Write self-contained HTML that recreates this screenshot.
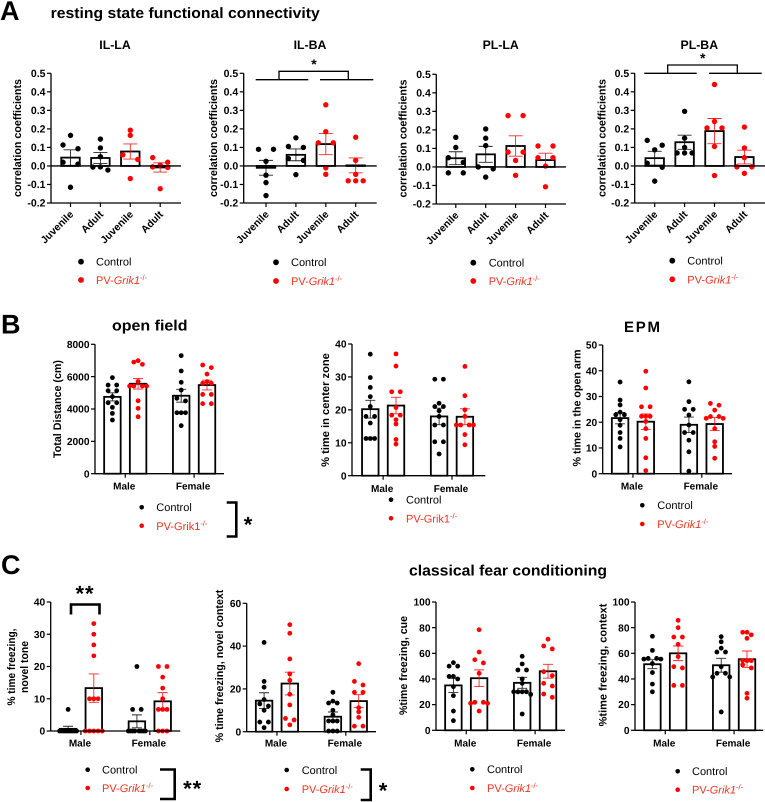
<!DOCTYPE html>
<html lang="en">
<head>
<meta charset="utf-8">
<title>Resting state connectivity, open field, EPM and fear conditioning</title>
<style>
html,body{margin:0;padding:0;background:#fff;width:765px;height:802px;overflow:hidden}
svg{display:block;filter:blur(0.3px)}
text{font-family:"Liberation Sans",sans-serif;fill:#000;text-rendering:geometricPrecision}
.panel-letter{font-size:27px;font-weight:bold}
.section{font-size:15px;font-weight:bold}
.ptitle{font-size:12.3px;font-weight:bold;text-anchor:middle}
.leg{font-size:11px}
.leg-red{font-size:11px;fill:#ee3322}
.leg-red tspan{fill:#ee3322}
.star{font-weight:bold;font-size:22px;text-anchor:middle}
.star-a{font-weight:bold;font-size:14px;text-anchor:middle}
.br{fill:none;stroke:#000;stroke-width:1.3}
.br2{fill:none;stroke:#000;stroke-width:2.6}
</style>
</head>
<body>
<svg id="figure" width="765" height="802" viewBox="0 0 765 802" xmlns="http://www.w3.org/2000/svg">
  <rect width="765" height="802" fill="#fff"/>
  <text class="panel-letter" x="0" y="20">A</text>
  <text class="panel-letter" x="1" y="333.5">B</text>
  <text class="panel-letter" x="1" y="574">C</text>
  <text class="section" x="50.7" y="18" textLength="269" lengthAdjust="spacingAndGlyphs">resting state functional connectivity</text>
  <text class="section" x="112" y="330.7" textLength="75.5" lengthAdjust="spacingAndGlyphs">open field</text>
  <text class="section" x="624" y="332" textLength="36" lengthAdjust="spacing">EPM</text>
  <text class="section" x="409" y="575.7" textLength="198" lengthAdjust="spacingAndGlyphs">classical fear conditioning</text>
  <text class="ptitle" x="115" y="49">IL-LA</text>
  <text class="ptitle" x="310" y="49">IL-BA</text>
  <text class="ptitle" x="500.7" y="49">PL-LA</text>
  <text class="ptitle" x="699.3" y="49">PL-BA</text>

  <g>
    <path class="br" d="M255.7 79.7H308.3M320 79.7H373.3M279 79.7V71.3H348.3V79.7"/>
    <text class="star-a" x="314" y="69">*</text>
  </g>
  <g>
    <path class="br" d="M644.3 73.3H696.7M709 73.3H761.7M667.7 73.3V65H737.3V73.3"/>
    <text class="star-a" x="702.7" y="63">*</text>
  </g>
  <g>
    <path class="br2" d="M71 614.5V604.5H99.5V614.5"/>
    <text class="star" x="85" y="601" letter-spacing="1">**</text>
  </g>
  <g>
    <path class="br2" d="M226.7 502.5H236.3V536.5H226.7"/>
    <text class="star" x="248" y="532">*</text>
  </g>
  <g>
    <path class="br2" d="M160 769.5H174.7V799H160"/>
    <text class="star" x="192.7" y="796" letter-spacing="1">**</text>
  </g>
  <g>
    <path class="br2" d="M360.7 769.5H370.7V800H360.7"/>
    <text class="star" x="383" y="798">*</text>
  </g>

  <g>
    <circle cx="81" cy="261.7" r="2.9" fill="#000"/><text class="leg" x="96" y="265.5">Control</text>
    <circle cx="81" cy="280" r="2.9" fill="#f00"/><text class="leg-red" x="96" y="284">PV-<tspan font-style="italic">Grik1</tspan><tspan font-size="7.5" dy="-4">-/-</tspan></text>
  </g>
  <g>
    <circle cx="276" cy="262.3" r="2.9" fill="#000"/><text class="leg" x="291" y="266">Control</text>
    <circle cx="276" cy="281" r="2.9" fill="#f00"/><text class="leg-red" x="291" y="285">PV-<tspan font-style="italic">Grik1</tspan><tspan font-size="7.5" dy="-4">-/-</tspan></text>
  </g>
  <g>
    <circle cx="473.3" cy="262.7" r="2.9" fill="#000"/><text class="leg" x="488.7" y="266.5">Control</text>
    <circle cx="473.3" cy="281" r="2.9" fill="#f00"/><text class="leg-red" x="488.7" y="285">PV-<tspan font-style="italic">Grik1</tspan><tspan font-size="7.5" dy="-4">-/-</tspan></text>
  </g>
  <g>
    <circle cx="672.3" cy="260.7" r="2.9" fill="#000"/><text class="leg" x="687.3" y="264.5">Control</text>
    <circle cx="672.3" cy="279.3" r="2.9" fill="#f00"/><text class="leg-red" x="687.3" y="283.3">PV-<tspan font-style="italic">Grik1</tspan><tspan font-size="7.5" dy="-4">-/-</tspan></text>
  </g>
  <g>
    <circle cx="141.7" cy="507.3" r="2.3" fill="#000"/><text class="leg" x="156.3" y="511">Control</text>
    <circle cx="141.7" cy="525.7" r="2.3" fill="#f00"/><text class="leg-red" x="156.3" y="530">PV-Grik1<tspan font-size="7.5" dy="-4">-/-</tspan></text>
  </g>
  <g>
    <circle cx="391" cy="499.7" r="2.3" fill="#000"/><text class="leg" x="406" y="503.5">Control</text>
    <circle cx="391" cy="518.3" r="2.3" fill="#f00"/><text class="leg-red" x="406" y="522.5">PV-Grik1<tspan font-size="7.5" dy="-4">-/-</tspan></text>
  </g>
  <g>
    <circle cx="642.3" cy="505.3" r="2.3" fill="#000"/><text class="leg" x="657.3" y="509">Control</text>
    <circle cx="642.3" cy="524" r="2.3" fill="#f00"/><text class="leg-red" x="657.3" y="528">PV-<tspan font-style="italic">Grik1</tspan><tspan font-size="7.5" dy="-4">-/-</tspan></text>
  </g>
  <g>
    <circle cx="87.7" cy="769.7" r="2.3" fill="#000"/><text class="leg" x="102" y="773.5">Control</text>
    <circle cx="87.7" cy="788" r="2.3" fill="#f00"/><text class="leg-red" x="102" y="792">PV-<tspan font-style="italic">Grik1</tspan><tspan font-size="7.5" dy="-4">-/-</tspan></text>
  </g>
  <g>
    <circle cx="286.7" cy="770" r="2.3" fill="#000"/><text class="leg" x="301.7" y="774">Control</text>
    <circle cx="286.7" cy="789" r="2.3" fill="#f00"/><text class="leg-red" x="301.7" y="793">PV-<tspan font-style="italic">Grik1</tspan><tspan font-size="7.5" dy="-4">-/-</tspan></text>
  </g>
  <g>
    <circle cx="472.3" cy="769.3" r="2.3" fill="#000"/><text class="leg" x="487" y="773">Control</text>
    <circle cx="472.3" cy="788" r="2.3" fill="#f00"/><text class="leg-red" x="487" y="792">PV-<tspan font-style="italic">Grik1</tspan><tspan font-size="7.5" dy="-4">-/-</tspan></text>
  </g>
  <g>
    <circle cx="677.7" cy="771.3" r="2.3" fill="#000"/><text class="leg" x="692" y="775">Control</text>
    <circle cx="677.7" cy="789.7" r="2.3" fill="#f00"/><text class="leg-red" x="692" y="793.7">PV-<tspan font-style="italic">Grik1</tspan><tspan font-size="7.5" dy="-4">-/-</tspan></text>
  </g>
</svg>

<script>
// ---------- data ----------
const ageCategories = ['Juvenile', 'Adult', 'Juvenile', 'Adult'];
const sexCategories = ['Male', 'Female'];
const correlationTicks = ['-0.2', '-0.1', '0.0', '0.1', '0.2', '0.3', '0.4', '0.5'];
const ageGroupColors = ['black', 'black', 'red', 'red'];
const sexGroupColors = ['black', 'red', 'black', 'red'];

const ilLaValues = [
  [0.165, 0.113, 0.093, 0.02, 0.01, -0.115],
  [0.145, 0.097, 0.05, -0.005, -0.006, -0.022],
  [0.193, 0.165, 0.06, 0.035, -0.068],
  [0.045, 0.02, 0.005, -0.005, -0.008, -0.123]
];
const ilLaMeans = [0.045, 0.043, 0.078, -0.008];
const ilLaErrors = [0.042, 0.03, 0.041, 0.025];

const ilBaValues = [
  [0.09, 0.09, 0.025, -0.05, -0.09, -0.16],
  [0.152, 0.105, 0.1, 0.04, 0.03, -0.047],
  [0.33, 0.185, 0.125, 0.125, -0.01, -0.045],
  [0.155, 0.03, -0.045, -0.08, -0.08, -0.08]
];
const ilBaMeans = [-0.01, 0.06, 0.118, 0.003];
const ilBaErrors = [0.04, 0.032, 0.057, 0.04];

const plLaValues = [
  [0.16, 0.105, 0.05, 0.025, -0.032, -0.032],
  [0.205, 0.155, 0.115, 0, -0.01, -0.055],
  [0.277, 0.277, 0.08, 0.08, 0.035, -0.045],
  [0.113, 0.113, 0.05, 0.05, 0.005, -0.107]
];
const plLaMeans = [0.047, 0.068, 0.113, 0.037];
const plLaErrors = [0.035, 0.043, 0.055, 0.037];

const plBaValues = [
  [0.138, 0.112, 0.087, 0.015, -0.007, -0.082],
  [0.295, 0.15, 0.1, 0.07, 0.07, 0.07],
  [0.44, 0.24, 0.205, 0.205, 0.105, -0.052],
  [0.21, 0.097, 0.045, -0.005, -0.005, -0.04]
];
const plBaMeans = [0.042, 0.128, 0.188, 0.048];
const plBaErrors = [0.037, 0.038, 0.068, 0.037];

const openFieldTicks = ['0', '2000', '4000', '6000', '8000'];
const openFieldValues = [
  [5940, 5480, 5480, 5130, 5130, 4760, 4390, 4390, 4100, 3730, 3320],
  [6990, 6900, 6760, 5420, 5420, 5420, 5420, 4510, 4040, 3520, 5700],
  [7300, 6350, 5650, 5170, 4660, 4500, 3770, 3770, 3770, 2970],
  [6720, 6560, 6160, 5690, 5590, 5590, 4900, 4900, 4330, 4330]
];
const openFieldMeans = [4750, 5560, 4820, 5480];
const openFieldErrors = [250, 330, 400, 300];

const centerZoneTicks = ['0', '10', '20', '30', '40'];
const centerZoneValues = [
  [36.9, 29.8, 26.8, 24, 21, 18, 18, 16, 11.3, 11.3, 11.3],
  [37, 33.3, 25.5, 25.5, 20.7, 18.4, 18.4, 17, 15.7, 11, 9.6],
  [29.3, 29.3, 22, 21, 21, 19.7, 18, 15.4, 15.4, 10.3, 10.3, 6.6],
  [33.2, 24.3, 20, 18, 15.4, 15.4, 15.4, 15.4, 12.5, 9.4]
];
const centerZoneMeans = [20.2, 21.3, 18, 17.9];
const centerZoneErrors = [2.7, 2.5, 2.5, 2.4];

const openArmTicks = ['0', '10', '20', '30', '40', '50'];
const openArmValues = [
  [35.6, 28.6, 26.7, 23.9, 22.9, 22.9, 21, 18.8, 16, 13.7, 10.4],
  [39.8, 33.3, 26, 26, 22.3, 22.3, 22.3, 20.3, 17.5, 13.7, 6.2, 1.2],
  [35.7, 28, 25, 25, 22.8, 18.9, 16, 16, 13, 8.5, 1],
  [27.3, 26.6, 24.7, 22.2, 22.2, 21.5, 21.5, 17.5, 12.4, 10.6, 6]
];
const openArmMeans = [21.6, 20.2, 19, 19.3];
const openArmErrors = [2.2, 3, 3, 2.5];

const toneTicks = ['0', '10', '20', '30', '40'];
const toneValues = [
  [6.7, 0, 0, 0, 0, 0, 0, 0, 0, 0],
  [33.3, 30, 26.7, 23.3, 10, 10, 10, 0, 0, 0, 0, 0],
  [20, 6.7, 6.7, 0, 0, 0, 0, 0, 0, 0, 0],
  [20, 20, 16.7, 13.3, 10, 6.7, 6.7, 6.7, 0, 0, 0]
];
const toneMeans = [0.67, 13.3, 3, 9.2];
const toneErrors = [0.8, 4.4, 2, 2.7];

const novelContextTicks = ['0', '20', '40', '60'];
const novelContextValues = [
  [41.7, 23.5, 20.8, 15, 13, 12, 10, 4.5, 4.5, 1.9],
  [50, 46, 34, 27, 24, 17.5, 12.5, 6.2, 5.5, 3.2],
  [18.4, 14.3, 13.4, 13.4, 10, 7.8, 5, 5, 5, 0.3, 0.3, 0.3],
  [31.8, 23.5, 21.8, 18.4, 18.4, 11.2, 9.3, 6.7, 2.6, 2.6]
];
const novelContextMeans = [14.5, 22.5, 7, 14.3];
const novelContextErrors = [3.7, 5.3, 2.2, 3];

const percentTicks = ['0', '20', '40', '60', '80', '100'];
const cueValues = [
  [52.7, 50, 50, 42, 42, 40, 34, 27, 15, 7.5],
  [78.4, 61, 55, 52.5, 44.4, 21.8, 21.8, 21, 21, 15],
  [57.7, 51.7, 47, 47, 40, 36.6, 30, 30, 30, 30, 28, 12.7],
  [71, 65.7, 63.4, 45.7, 42.6, 36.6, 34.5, 28.3, 25.7]
];
const cueMeans = [35, 40.6, 37, 46];
const cueErrors = [5.5, 6.5, 4.3, 5.4];

const contextValues = [
  [73.3, 62.3, 56, 56, 55.5, 55.5, 52, 45, 36, 30],
  [85.7, 80, 72.7, 72.7, 67, 57.4, 49.6, 48.6, 35, 35],
  [73, 69, 64, 61, 61, 49.6, 44.4, 44.4, 41.6, 41.6, 14.3],
  [76.4, 76.4, 74.4, 71.7, 54.3, 54.3, 54.3, 51, 48.6, 28.8, 25]
];
const contextMeans = [51.5, 60, 50.7, 55.4];
const contextErrors = [3.5, 5.7, 5.4, 6.4];

// ---------- drawing helpers ----------
const SVG_NS = 'http://www.w3.org/2000/svg';
const figure = document.getElementById('figure');

function make(tag, parent, attrs, text) {
  const node = document.createElementNS(SVG_NS, tag);
  Object.keys(attrs).forEach(function (k) { node.setAttribute(k, attrs[k]); });
  if (text !== undefined) node.textContent = text;
  parent.appendChild(node);
  return node;
}

// Bin near-equal values into rows and spread each row sideways, centred on the group.
function layoutPoints(values, y, binPx, step, maxHalf) {
  const sorted = values.slice().sort(function (a, b) { return b - a; });
  const rows = [];
  sorted.forEach(function (v) {
    const row = rows[rows.length - 1];
    if (row && y(v) - y(row[0]) <= binPx) row.push(v);
    else rows.push([v]);
  });
  const out = [];
  rows.forEach(function (row) {
    const n = row.length;
    const half = Math.floor(n / 2);
    const s = half > 0 ? Math.min(step, maxHalf / half) : 0;
    row.forEach(function (v, i) {
      let slot;
      if (n % 2 === 1) slot = i === 0 ? 0 : (i % 2 ? -1 : 1) * Math.ceil(i / 2);
      else slot = (i % 2 ? 1 : -1) * (Math.floor(i / 2) + 1);
      out.push({ value: v, offset: slot * s });
    });
  });
  return out;
}

function drawChart(o) {
  const group = make('g', figure, {});
  
  

  const numericTicks = o.ticks.map(Number);
  const lo = Math.min.apply(null, numericTicks);
  const hi = Math.max.apply(null, numericTicks);
  const y = function (v) { return o.bottom + (v - lo) * (o.top - o.bottom) / (hi - lo); };
  const x = function (i) { return o.axisX + o.first + o.positions(i); };
  const base = y(0);

  // bars
  o.means.forEach(function (m, i) {
    const bar = make('rect', group, {
      x: x(i) - o.barW / 2, y: Math.min(y(m), base), width: o.barW,
      height: Math.abs(y(m) - base), fill: '#fff', stroke: '#000', 'stroke-width': 1.8
    });
    
    
  });

  // points
  o.values.forEach(function (vals, i) {
    layoutPoints(vals, y, o.binPx, o.step, o.maxHalf).forEach(function (p) {
      const dot = make('circle', group, {
        cx: x(i) + p.offset, cy: y(p.value), r: o.r, fill: o.colors[i] === 'red' ? '#f00' : '#000'
      });
      
      
    });
  });

  // error bars
  o.means.forEach(function (m, i) {
    const c = o.colors[i] === 'red' ? '#f00' : '#000';
    const up = y(m + o.errors[i]);
    const dn = y(m - o.errors[i]);
    const err = make('path', group, {
      d: 'M' + (x(i) - o.cap) + ' ' + up + 'H' + (x(i) + o.cap) +
         'M' + x(i) + ' ' + up + 'V' + dn +
         'M' + (x(i) - o.cap) + ' ' + dn + 'H' + (x(i) + o.cap),
      fill: 'none', stroke: c, 'stroke-width': 0.9, 'stroke-opacity': 0.85
    });
    
    
  });

  // axes
  const yAxis = make('line', group, { x1: o.axisX, x2: o.axisX, y1: o.top, y2: o.bottom, stroke: '#000', 'stroke-width': 1.3 });
  
  
  const xAxis = make('line', group, { x1: o.axisX, x2: o.right, y1: o.bottom, y2: o.bottom, stroke: '#000', 'stroke-width': 1.3 });
  
  
  if (lo < 0) {
    const zero = make('line', group, { x1: o.axisX, x2: o.right, y1: base, y2: base, stroke: '#000', 'stroke-width': 1.3 });
    
    
  }

  // y ticks
  o.ticks.forEach(function (t) {
    const tick = make('line', group, { x1: o.axisX - 4, x2: o.axisX, y1: y(Number(t)), y2: y(Number(t)), stroke: '#000', 'stroke-width': 1.2 });
    
    
    const lab = make('text', group, {
      x: o.axisX - 5.5, y: y(Number(t)) + 3.6, 'text-anchor': 'end', 'font-size': o.tickFont, 'font-weight': 'bold'
    }, t);
    
    
  });

  // x ticks + labels
  o.categories.forEach(function (c, j) {
    const tx = o.rotated ? x(j) : (x(j * 2) + x(j * 2 + 1)) / 2;
    const tick = make('line', group, { x1: tx, x2: tx, y1: o.bottom, y2: o.bottom + 4, stroke: '#000', 'stroke-width': 1.2 });
    
    
    let lab;
    if (o.rotated) {
      const ax = tx + 3.5;
      const ay = o.bottom + 12;
      lab = make('text', group, {
        x: ax, y: ay, 'text-anchor': 'end', 'font-size': 10.3, 'font-weight': 'bold',
        transform: 'rotate(-45 ' + ax + ' ' + ay + ')'
      }, c);
    } else {
      lab = make('text', group, {
        x: tx + (o.labelShift || 0), y: o.labelY, 'text-anchor': 'middle', 'font-size': 10, 'font-weight': 'bold'
      }, c);
    }
    
    
  });

  // y title
  o.yTitles.forEach(function (t) {
    const title = make('text', group, {
      x: 0, y: 0, 'text-anchor': 'middle', 'font-size': 11, 'font-weight': 'bold',
      transform: 'translate(' + t.x + ' ' + t.cy + ') rotate(-90)',
      textLength: t.len, lengthAdjust: 'spacingAndGlyphs'
    }, t.text);
    
    
  });
}

// Group layouts
function evenSpacing(i) { return i * 29.9; }
function pairedSpacing(i) { return i === 0 ? 0 : i === 1 ? 25.7 : i === 2 ? 68.8 : 94.6; }

const correlationStyle = {
  categories: ageCategories, colors: ageGroupColors, ticks: correlationTicks, rotated: true, first: 19.5, tickFont: 10.5,
  positions: evenSpacing, barW: 18.5, r: 2.7, binPx: 5, step: 7.5, maxHalf: 16, cap: 7
};
const sexStyle = {
  categories: sexCategories, colors: sexGroupColors, rotated: false, first: 17.4, tickFont: 10.2,
  positions: pairedSpacing, barW: 16.5, r: 2.4, binPx: 4, step: 4.3, maxHalf: 8.5, cap: 5
};

drawChart(Object.assign({}, correlationStyle, {
  name: 'chart-il-la', values: ilLaValues, means: ilLaMeans, errors: ilLaErrors,
  axisX: 51, right: 181, top: 73.3, bottom: 203,
  yTitles: [{ text: 'correlation coefficients', x: 21, cy: 138, len: 118 }]
}));
drawChart(Object.assign({}, correlationStyle, {
  name: 'chart-il-ba', values: ilBaValues, means: ilBaMeans, errors: ilBaErrors,
  axisX: 243.7, right: 376.7, top: 73.3, bottom: 203, first: 22.3,
  yTitles: [{ text: 'correlation coefficients', x: 217, cy: 138, len: 118 }]
}));
drawChart(Object.assign({}, correlationStyle, {
  name: 'chart-pl-la', values: plLaValues, means: plLaMeans, errors: plLaErrors,
  axisX: 436.3, right: 566, top: 74.3, bottom: 204,
  yTitles: [{ text: 'correlation coefficients', x: 406.5, cy: 138.5, len: 118 }]
}));
drawChart(Object.assign({}, correlationStyle, {
  name: 'chart-pl-ba', values: plBaValues, means: plBaMeans, errors: plBaErrors,
  axisX: 634.7, right: 765, top: 73.3, bottom: 203, first: 20,
  yTitles: [{ text: 'correlation coefficients', x: 605.5, cy: 138, len: 118 }]
}));

drawChart(Object.assign({}, sexStyle, {
  name: 'chart-open-field', ticks: openFieldTicks, values: openFieldValues, means: openFieldMeans, errors: openFieldErrors,
  axisX: 95, right: 224, top: 344.3, bottom: 473.7, labelY: 489.5, labelShift: -1,
  yTitles: [{ text: 'Total Distance (cm)', x: 61, cy: 409, len: 98 }]
}));
drawChart(Object.assign({}, sexStyle, {
  name: 'chart-center-zone', ticks: centerZoneTicks, values: centerZoneValues, means: centerZoneMeans, errors: centerZoneErrors,
  axisX: 352, right: 485.3, top: 344, bottom: 475.7, first: 18.3, labelY: 492, labelShift: -1,
  yTitles: [{ text: '% time in center zone', x: 328.8, cy: 410, len: 113.7 }]
}));
drawChart(Object.assign({}, sexStyle, {
  name: 'chart-open-arm', ticks: openArmTicks, values: openArmValues, means: openArmMeans, errors: openArmErrors,
  axisX: 602.7, right: 732, top: 345, bottom: 473.7, labelY: 489.5, labelShift: -1,
  yTitles: [{ text: '% time in the open arm', x: 580.5, cy: 408, len: 117 }]
}));

drawChart(Object.assign({}, sexStyle, {
  name: 'chart-novel-tone', ticks: toneTicks, values: toneValues, means: toneMeans, errors: toneErrors,
  axisX: 50.7, right: 180.3, top: 602, bottom: 731, labelY: 746.5, labelShift: -1,
  yTitles: [
    { text: '% time freezing,', x: 15, cy: 667, len: 77 },
    { text: 'novel tone', x: 28, cy: 667, len: 52 }
  ]
}));
drawChart(Object.assign({}, sexStyle, {
  name: 'chart-novel-context', ticks: novelContextTicks, values: novelContextValues, means: novelContextMeans, errors: novelContextErrors,
  axisX: 246.7, right: 376, top: 603.3, bottom: 731.7, labelY: 746.5, labelShift: -1,
  yTitles: [{ text: '% time freezing, novel context', x: 223, cy: 666, len: 152.7 }]
}));
drawChart(Object.assign({}, sexStyle, {
  name: 'chart-cue', ticks: percentTicks, values: cueValues, means: cueMeans, errors: cueErrors,
  axisX: 436, right: 565, top: 602, bottom: 730.3, labelY: 746.5, labelShift: -1,
  yTitles: [{ text: '%time freezing, cue', x: 407, cy: 665.5, len: 99 }]
}));
drawChart(Object.assign({}, sexStyle, {
  name: 'chart-context', ticks: percentTicks, values: contextValues, means: contextMeans, errors: contextErrors,
  axisX: 635, right: 763.3, top: 602, bottom: 730.3, labelY: 746.5, labelShift: -1,
  yTitles: [{ text: '%time freezing,  context', x: 606.5, cy: 665, len: 122.7 }]
}));
</script>
</body>
</html>
